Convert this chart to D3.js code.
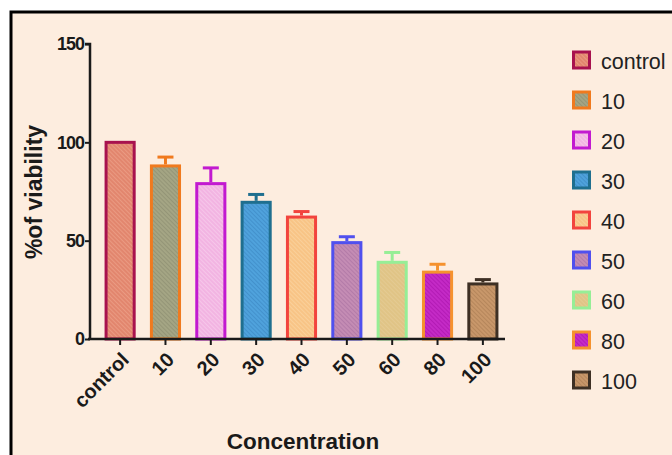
<!DOCTYPE html>
<html><head><meta charset="utf-8">
<script src="https://cdn.jsdelivr.net/npm/d3@7"></script>
<style>body{margin:0;background:#fff}svg{display:block}</style>
</head><body><svg id="c" width="672" height="455"></svg>
<script>
const categories = ["control","10","20","30","40","50","60","80","100"];
const values = [100, 88, 79, 69.5, 62, 49, 39, 34, 28];
const errors = [0, 4.5, 8, 4, 2.8, 3, 5, 4, 2.2];
const strokeColors = ["#a8124e","#f07a1e","#c21ad0","#1f6f8f","#f2443e","#5050ee","#96ee96","#f5922e","#3e3024"];
const fillColors = ["#e2866e","#a4a584","#f2b4e2","#4fa2dc","#f8c486","#c48cb4","#e0c486","#c42ac6","#c8976a"];
const hatchColors = ["#f0a890","#8a8a6e","#fad2ee","#3a86c2","#fcd8a8","#a870a0","#e8cf9a","#a810aa","#a87a50"];
const yTicks = [0, 50, 100, 150];

const FONT = "Liberation Sans, Arial, sans-serif";
const svg = d3.select("#c");
svg.append("rect").attr("x",11).attr("y",12).attr("width",700).attr("height",500)
  .attr("fill","#fdeddf").attr("stroke","#000").attr("stroke-width",3);

const defs = svg.append("defs");
categories.forEach((c,i)=>{
  const p = defs.append("pattern").attr("id","h"+i).attr("patternUnits","userSpaceOnUse")
    .attr("width",3).attr("height",3).attr("patternTransform","rotate(-45)");
  p.append("rect").attr("width",3).attr("height",3).attr("fill",fillColors[i]);
  p.append("line").attr("x1",0).attr("y1",0).attr("x2",0).attr("y2",3)
    .attr("stroke",hatchColors[i]).attr("stroke-width",1.2);
});

const x = d3.scaleBand().domain(categories).range([97, 506]).paddingInner(0.38).paddingOuter(0.2);
const y = d3.scaleLinear().domain([0,150]).range([339, 44]);

const g = svg.append("g");
g.selectAll("rect.bar").data(categories).join("rect").attr("class","bar")
  .attr("x",d=>x(d)).attr("width",x.bandwidth())
  .attr("y",(d,i)=>y(values[i])).attr("height",(d,i)=>y(0)-y(values[i]))
  .attr("fill",(d,i)=>"url(#h"+i+")").attr("stroke",(d,i)=>strokeColors[i]).attr("stroke-width",3);
categories.forEach((c,i)=>{
  if(!errors[i]) return;
  const cx = x(c)+x.bandwidth()/2;
  g.append("line").attr("x1",cx).attr("x2",cx).attr("y1",y(values[i])-1.5).attr("y2",y(values[i]+errors[i]))
    .attr("stroke",strokeColors[i]).attr("stroke-width",3);
  g.append("line").attr("x1",cx-8).attr("x2",cx+8).attr("y1",y(values[i]+errors[i])).attr("y2",y(values[i]+errors[i]))
    .attr("stroke",strokeColors[i]).attr("stroke-width",3);
});

const ya = svg.append("g").attr("transform","translate(90,0)")
  .call(d3.axisLeft(y).tickValues(yTicks).tickSize(5).tickPadding(1));
ya.select(".domain").attr("stroke","#1a1a1a").attr("stroke-width",2.5).attr("d","M-5,"+y(150)+"H0V"+y(0)+"H0");
ya.selectAll(".tick line").attr("stroke","#1a1a1a").attr("stroke-width",2);
ya.selectAll(".tick text").attr("font-family",FONT).attr("font-weight","bold")
  .attr("font-size",18).attr("fill","#1a1a1a").attr("letter-spacing","-1");

const xa = svg.append("g").attr("transform","translate(0,339)")
  .call(d3.axisBottom(x).tickSize(6).tickSizeOuter(0));
xa.select(".domain").attr("stroke","#1a1a1a").attr("stroke-width",2.5).attr("d","M88,0H505");
xa.selectAll(".tick line").attr("stroke","#1a1a1a").attr("stroke-width",2);
xa.selectAll(".tick text").attr("font-family",FONT).attr("font-weight","bold")
  .attr("font-size",20).attr("fill","#1a1a1a")
  .attr("text-anchor","end").attr("dy","0.35em")
  .attr("transform","translate(5,17) rotate(-45)").attr("y",0).attr("x",0);

svg.append("text").attr("transform","translate(34,192) rotate(-90)").attr("text-anchor","middle")
  .attr("dy","0.35em")
  .attr("font-family",FONT).attr("font-weight","bold").attr("font-size",23)
  .attr("fill","#1a1a1a").text("%of viability");
svg.append("text").attr("x",303).attr("y",449).attr("text-anchor","middle")
  .attr("font-family",FONT).attr("font-weight","bold").attr("font-size",22.5)
  .attr("fill","#1a1a1a").text("Concentration");

const lg = svg.append("g");
categories.forEach((c,i)=>{
  const cy = 60 + i*40;
  lg.append("rect").attr("x",573.5).attr("y",cy-8).attr("width",16).attr("height",16)
    .attr("fill","url(#h"+i+")").attr("stroke",strokeColors[i]).attr("stroke-width",3);
  lg.append("text").attr("x",601).attr("y",cy+1).attr("dy","0.36em")
    .attr("font-family",FONT).attr("font-size",21.5).attr("fill","#222").text(c);
});
</script></body></html>
